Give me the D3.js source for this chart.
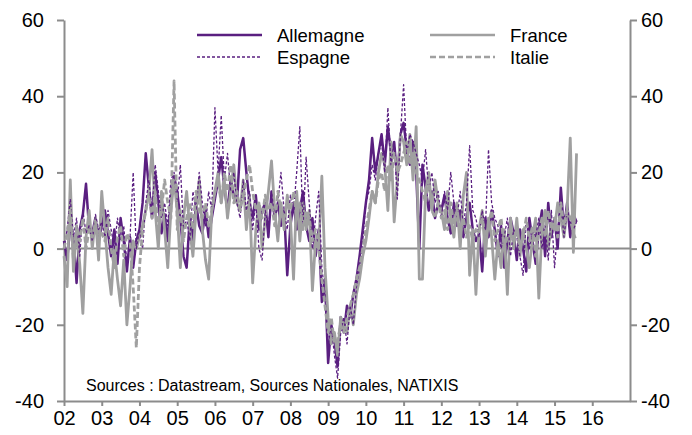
<!DOCTYPE html>
<html>
<head>
    <meta charset="utf-8">
    <title>Zone euro</title>
    <script src="https://cdnjs.cloudflare.com/ajax/libs/d3/7.8.5/d3.min.js"></script>
    <style>
        body { margin: 0; background: #fff; }
        text { font-family: "Liberation Sans", Arial, sans-serif; fill: #000; }
        .axis path, .axis line { stroke: #8c8c8c; stroke-width: 2px; }
        .axis text { font-size: 20px; }
    </style>
</head>
<body>
    <svg id="chart"></svg>

    <script>
        const width = 692;
        const height = 435;

        // monthly values, jan 2002 -> aug 2015
        const allemagne = [
            2, -3, 6, 3, -9, 5, 9, 17, 5, 4, 8, 2,
            6, 10, 4, -2, 5, -4, 8, 2, -6, 3, -5, 2,
            5, 12, 25, 16, 8, 20, 12, 4, 9, 2, 13, 19,
            15, 8, -2, -5, 8, 2, 12, 6, 4, 10, 3, 8,
            13, 18, 24, 16, 10, 18, 14, 12, 26, 29, 20, 12,
            8, 14, 5, 10, 12, 3, 15, 8, 12, 6, 10, -7,
            6, 12, 5, 10, 15, 6, 2, 8, -2, 5, -14, -8,
            -30, -20, -24, -31, -18, -22, -15, -18, -12, -8, -2, 5,
            12, 18, 29, 20, 25, 30, 22, 32, 25, 28, 18, 30,
            33, 26, 22, 28, 20, 0, 22, 16, 10, 15, 8, 12,
            10, 14, 8, 4, 12, 6, 10, 3, 8, 12, 5, 2,
            4, -6, 8, 3, 10, 5, -2, 6, -5, 2, 8, 4,
            -3, 5, 0, -6, 8, 2, -4, 5, 10, -2, 12, 3,
            8, 0, 16, 5, 12, 3, 9, 7
        ];
        const france = [
            -2, -10, 18, -6, 5, -4, -17, 3, 10, 0, 8, -3,
            15, 5, -5, -12, 0, -8, -15, -3, -20, -10, 2, 0,
            3, 6, 10, 15, 26, 10, 0, 15, 5, -5, 10, 18,
            10, -5, 8, 15, 5, -2, 10, 18, 5, -3, -8, 10,
            15, 20, 12, 18, 8, 15, 22, 12, 10, 18, 5, 14,
            -9, 5, 12, 0, 8, 15, 23, 10, 2, 12, 5, 14,
            8, -8, 15, 2, 12, 5, 10, -11, 2, 0, 19, -5,
            -18, -25, -22, -28, -18, -20, -22, -15, -20, -12, -8, -2,
            2, 8, 15, 12, 20, 25, 22, 10, 28, 7, 18, 30,
            28, 22, 30, 18, 32, -8, -8, 15, 20, 10, 18, 12,
            10, 5, 15, 8, 3, 12, 0, 14, 20, -7, 5, -12,
            5, 10, -2, 8, 3, -8, 2, -5, 5, -12, 8, 0,
            8, -2, 5, 0, -5, 3, 8, -13, 5, 10, 0, 6,
            5, 12, 8, 3, 10, 29, -1, 25
        ];
        const espagne = [
            0, 5, 13, 3, 8, -2, 10, 4, 6, 2, 9, 5,
            7, 3, 10, 5, 0, 8, 2, 6, -4, 3, 20, 0,
            5, 0, 12, 18, 10, 22, 15, 8, 12, 6, 18, 20,
            12, 22, 5, 8, 2, 15, 10, 20, 12, 6, 15, 10,
            37, 20, 35, 18, 25, 15, 20, 12, 8, 18, 10, 15,
            5, 12, 0, -3, 10, 5, 15, 8, 12, 20, 10, 5,
            14, 10, 20, 32, 5, 24, 12, 0, 8, 15, -5, -12,
            -25, -20, -28, -34, -22, -18, -25, -15, -20, -10, -5, 2,
            12, 15, 22, 18, 25, 28, 20, 37, 22, 28, 13, 30,
            43, 25, 30, 28, 25, 22, 18, 26, 15, 20, 12, 15,
            8, 15, 10, 20, 12, 8, 15, 6, 12, 27, 10, 8,
            3, 10, 5, 26, 12, 8, 6, 0, 3, 8, -2, 5,
            3, -2, -7, 8, 0, 5, 3, 8, 0, 6, -3, 10,
            -5, 5, 12, 3, 10, 7, 5, 7
        ];
        const italie = [
            0, 4, 10, -3, 6, 2, 8, 0, 5, 3, 7, 2,
            4, 2, 8, 0, -5, 3, 6, -2, 4, 2, -10, -26,
            -5, 5, 10, 14, 8, 15, 5, 10, 18, 12, 8, 44,
            5, 10, 2, 8, 12, 5, 15, 10, 8, 12, 6, 10,
            15, 18, 12, 20, 15, 22, 12, 15, 10, 14, 18, 22,
            15, 10, 12, 8, 14, 10, 12, 6, 15, 10, 8, 12,
            10, 15, 8, 12, 5, 10, 8, 2, 5, 0, -8, -15,
            -22, -18, -25, -24, -20, -22, -18, -15, -12, -8, -5, 0,
            5, 10, 15, 12, 18, 20, 15, 22, 18, 25, 20, 22,
            25, 28, 22, 25, 20, 18, 15, 12, 18, 10, 8, 12,
            8, 10, 5, 12, 6, 10, 4, 8, 3, 6, 2, 5,
            4, 8, 3, 6, 10, 2, 5, 8, 0, 3, 6, 2,
            5, 0, 3, 8, 2, 6, -2, 4, 8, 3, 10, 5,
            8, 3, 12, 6, 10, 8, 4, 2
        ];

        const yearTicks = d3.range(2002, 2017);
        const valueTicks = [-40, -20, 0, 20, 40, 60];
        const sourceText = "Sources : Datastream, Sources Nationales, NATIXIS";

        const series = [
            {name: "Allemagne", values: allemagne, color: "#5a1f80", width: 2.5, dash: null},
            {name: "France", values: france, color: "#a0a0a0", width: 2.8, dash: null},
            {name: "Espagne", values: espagne, color: "#5a1f80", width: 1.3, dash: "3,2"},
            {name: "Italie", values: italie, color: "#a0a0a0", width: 2.8, dash: "6,3"}
        ];

        const margin = {left: 64, right: 62, top: 20, bottom: 34};

        const svg = d3.select("#chart")
            .attr("width", width)
            .attr("height", height);

        const x = d3.scaleLinear()
            .domain([2002, 2017])
            .range([margin.left, width - margin.right]);

        const y = d3.scaleLinear()
            .domain([-40, 60])
            .range([height - margin.bottom, margin.top]);

        const dateOf = i => 2002 + i / 12;
        const plain = d => String(d);

        // axes
        svg.append("g")
            .attr("class", "axis")
            .attr("transform", `translate(${margin.left},0)`)
            .call(d3.axisLeft(y).tickValues(valueTicks).tickFormat(plain)
                .tickSize(7).tickPadding(13).tickSizeOuter(0));

        svg.append("g")
            .attr("class", "axis")
            .attr("transform", `translate(${width - margin.right},0)`)
            .call(d3.axisRight(y).tickValues(valueTicks).tickFormat(plain)
                .tickSize(7).tickPadding(4).tickSizeOuter(0));

        svg.append("g")
            .attr("class", "axis")
            .attr("transform", `translate(0,${height - margin.bottom})`)
            .call(d3.axisBottom(x).tickValues(yearTicks)
                .tickFormat(d => String(d % 100).padStart(2, "0"))
                .tickSize(5).tickPadding(5).tickSizeOuter(0));

        // zero line
        svg.append("line")
            .attr("x1", x(2002)).attr("x2", x(2017))
            .attr("y1", y(0)).attr("y2", y(0))
            .attr("stroke", "#8c8c8c")
            .attr("stroke-width", 2);

        const line = d3.line()
            .x((d, i) => x(dateOf(i)))
            .y(d => y(d));

        svg.selectAll(".series")
            .data(series)
            .join("path")
            .attr("class", "series")
            .attr("fill", "none")
            .attr("stroke", d => d.color)
            .attr("stroke-width", d => d.width)
            .attr("stroke-dasharray", d => d.dash)
            .attr("stroke-linejoin", "round")
            .attr("d", d => line(d.values));

        // legend
        const legendPos = [[197, 35], [430, 35], [197, 57], [430, 57]];
        const legend = svg.selectAll(".legend")
            .data(series)
            .join("g")
            .attr("class", "legend")
            .attr("transform", (d, i) => `translate(${legendPos[i][0]},${legendPos[i][1]})`);

        legend.append("line")
            .attr("x1", 0).attr("x2", 65)
            .attr("stroke", d => d.color)
            .attr("stroke-width", d => d.name === "Espagne" ? 1.3 : 2.5)
            .attr("stroke-dasharray", d => d.dash);

        legend.append("text")
            .attr("x", 80)
            .attr("y", 6.5)
            .attr("font-size", 18.5)
            .text(d => d.name);

        svg.append("text")
            .attr("x", 86)
            .attr("y", 391)
            .attr("font-size", 16)
            .text(sourceText);
    </script>
</body>
</html>
